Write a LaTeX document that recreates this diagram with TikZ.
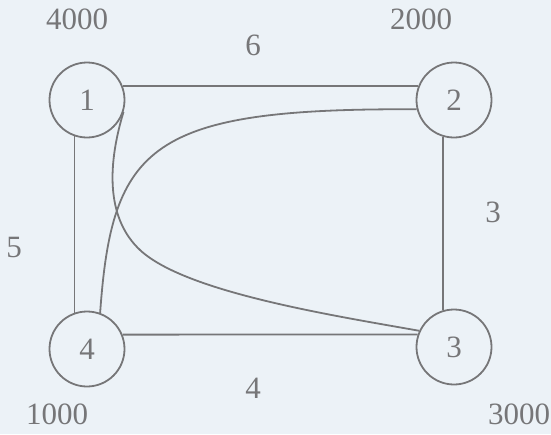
\documentclass[tikz,border=0pt]{standalone}
\usepackage{fontspec}
\setmainfont{Liberation Serif}
\usetikzlibrary{positioning, calc}

\definecolor{paper}{RGB}{236,242,247}
\definecolor{ink}{RGB}{118,118,120}

\begin{document}
\begin{tikzpicture}[
    x=1pt, y=-1pt,
    site/.style={circle, draw=ink, line width=1.8pt, minimum size=75pt, inner sep=0pt, text=ink, font=\fontsize{31}{33}\selectfont},
    lbl/.style={text=ink, font=\fontsize{31}{33}\selectfont, inner sep=0pt},
    link/.style={draw=ink, line width=1.8pt}
  ]
    \fill[paper] (0,0) rectangle (551,434);
    \useasboundingbox (0,0) rectangle (551,434);
    \node[site] (n1) at (87,100) {1};
    \node[site] (n2) at (454,100) {2};
    \node[site] (n3) at (454,347) {3};
    \node[site] (n4) at (87,349) {4};
    \node[lbl] (w1) at (77,19) {4000};
    \node[lbl] (w2) at (421,19) {2000};
    \node[lbl] (w3) at (519,414) {3000};
    \node[lbl] (w4) at (57,414) {1000};
    \node[lbl] (d12) at (253,45) {6};
    \node[lbl] (d23) at (493,212) {3};
    \node[lbl] (d34) at (253,388) {4};
    \node[lbl] (d14) at (14,247) {5};
    \draw[link] (n1.22) -- (n2.158);
    \draw[link] (n2.-107) -- (n3.107);
    \draw[link] (n1.-109) -- (n4.109);
    \draw[link] (n4.22) -- (n3.161);
    \draw[link] (n1.-18) .. controls (106,170) and (108,220) .. (140,250)
      .. controls (185,292) and (330,315) .. (n3.155);
    \draw[link] (n2.194) .. controls (150,108) and (112,145) .. (n4.70);
  \end{tikzpicture}
\end{document}
